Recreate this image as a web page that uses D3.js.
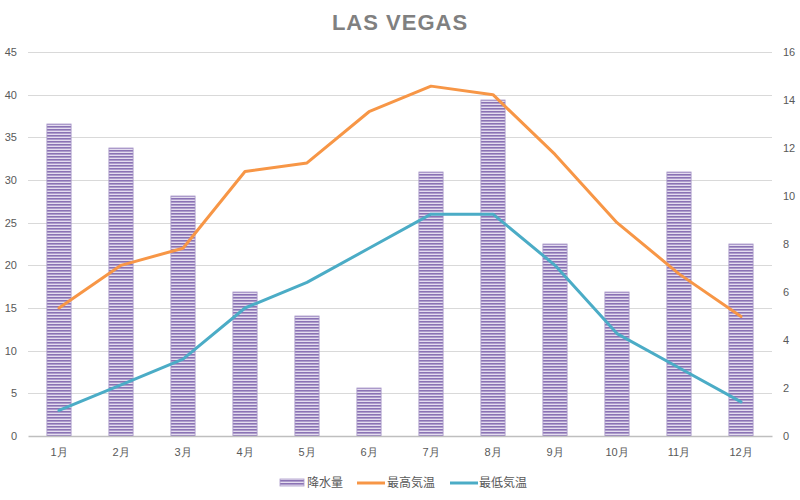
<!DOCTYPE html>
<html><head><meta charset="utf-8">
<script src="https://cdn.jsdelivr.net/npm/d3@7"></script>
<style>body{margin:0;background:#fff;}svg{display:block;font-family:"Noto Sans CJK JP","Liberation Sans",sans-serif;}</style>
</head><body><svg id="c" width="800" height="500"></svg>
<script>
const months = ["1月","2月","3月","4月","5月","6月","7月","8月","9月","10月","11月","12月"];
const precipitation = [13,12,10,6,5,2,11,14,8,6,11,8];
const maxTemp = [15,20,22,31,32,38,41,40,33,25,19,14];
const minTemp = [3,6,9,15,18,22,26,26,20,12,8,4];
const leftTicks = [0,5,10,15,20,25,30,35,40,45];
const rightTicks = [0,2,4,6,8,10,12,14,16];
const seriesNames = ["降水量","最高気温","最低気温"];

const svg = d3.select("#c");
const L=28, R=772, T=52, B=436;
const x = d3.scaleBand().domain(months).range([L,R]).paddingInner(0.61).paddingOuter(0.305);
const xc = d3.scalePoint().domain(months).range([L+31,R-31]);
const yL = d3.scaleLinear().domain([0,45]).range([B,T]);
const yR = d3.scaleLinear().domain([0,16]).range([B,T]);

const defs = svg.append("defs");
const pat = defs.append("pattern").attr("id","stripe").attr("patternUnits","userSpaceOnUse").attr("width",6).attr("height",3);
pat.append("rect").attr("width",6).attr("height",3).attr("fill","#e4ddef");
pat.append("rect").attr("width",6).attr("height",1.6).attr("fill","#8a72b4");

svg.append("text").attr("x",400).attr("y",30).attr("text-anchor","middle")
  .attr("font-family","'Liberation Sans Narrow','Liberation Sans',sans-serif").attr("font-weight","bold")
  .attr("font-size",22).attr("fill","#808080").attr("letter-spacing",1).text("LAS VEGAS");

// gridlines
svg.append("g").selectAll("line").data(leftTicks.filter(d=>d>0)).join("line")
  .attr("x1",L).attr("x2",R).attr("y1",d=>Math.round(yL(d))+0.5).attr("y2",d=>Math.round(yL(d))+0.5)
  .attr("stroke","#d9d9d9").attr("stroke-width",1);

// left axis
const gl = svg.append("g").attr("transform",`translate(${L},0)`)
  .call(d3.axisLeft(yL).tickValues(leftTicks).tickSize(0).tickPadding(11));
gl.select(".domain").remove();
gl.selectAll("text").attr("font-size",11).attr("fill","#595959").attr("font-family","'Liberation Sans',sans-serif");

// right axis
const gr = svg.append("g").attr("transform",`translate(${R},0)`)
  .call(d3.axisRight(yR).tickValues(rightTicks).tickSize(0).tickPadding(11));
gr.select(".domain").remove();
gr.selectAll("text").attr("font-size",11).attr("fill","#595959").attr("font-family","'Liberation Sans',sans-serif");

// bars
svg.append("g").selectAll("rect").data(precipitation).join("rect")
  .attr("x",(d,i)=>x(months[i])).attr("width",x.bandwidth())
  .attr("y",d=>yR(d)).attr("height",d=>B-yR(d))
  .attr("fill","url(#stripe)").attr("stroke","#a898c8").attr("stroke-width",0.8);

// bottom axis
const gb = svg.append("g").attr("transform",`translate(0,${B})`)
  .call(d3.axisBottom(x).tickSize(0).tickPadding(12));
gb.select(".domain").attr("stroke","#bfbfbf").attr("stroke-width",1.5);
gb.selectAll("text").attr("font-size",11).attr("fill","#595959");

// lines
const line = d3.line().x((d,i)=>xc(months[i])).y(d=>yL(d));
svg.append("path").datum(maxTemp).attr("d",line).attr("fill","none").attr("stroke","#f79646").attr("stroke-width",3).attr("stroke-linejoin","round").attr("stroke-linecap","round");
svg.append("path").datum(minTemp).attr("d",line).attr("fill","none").attr("stroke","#4bacc6").attr("stroke-width",3).attr("stroke-linejoin","round").attr("stroke-linecap","round");

// legend
const lg = svg.append("g").attr("transform","translate(0,483)");
lg.append("rect").attr("x",280).attr("y",-4).attr("width",24).attr("height",7).attr("fill","url(#stripe)").attr("stroke","#a898c8").attr("stroke-width",0.8);
lg.append("text").attr("x",307).attr("y",4).attr("font-size",12).attr("fill","#595959").text(seriesNames[0]);
lg.append("line").attr("x1",357).attr("x2",385).attr("y1",0).attr("y2",0).attr("stroke","#f79646").attr("stroke-width",3);
lg.append("text").attr("x",387).attr("y",4).attr("font-size",12).attr("fill","#595959").text(seriesNames[1]);
lg.append("line").attr("x1",450).attr("x2",478).attr("y1",0).attr("y2",0).attr("stroke","#4bacc6").attr("stroke-width",3);
lg.append("text").attr("x",479).attr("y",4).attr("font-size",12).attr("fill","#595959").text(seriesNames[2]);
</script></body></html>
